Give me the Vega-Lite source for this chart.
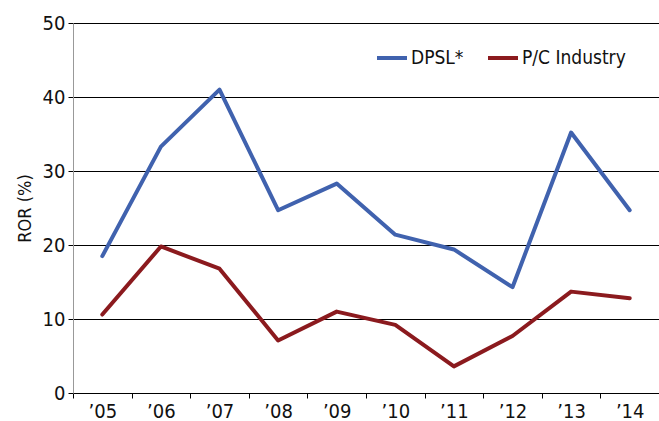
{
  "$schema": "https://vega.github.io/schema/vega-lite/v6.json",
  "autosize": {"type": "none"},
  "padding": {"left": 73, "top": 23, "right": 0, "bottom": 28},
  "width": 586,
  "height": 370,
  "background": "white",
  "config": {
    "font": "DejaVu Sans Condensed, Liberation Sans, sans-serif",
    "view": {"stroke": null}
  },
  "data": {
    "values": [
      {"year": "’05", "series": "DPSL*", "ror": 18.5},
      {"year": "’06", "series": "DPSL*", "ror": 33.3},
      {"year": "’07", "series": "DPSL*", "ror": 41.0},
      {"year": "’08", "series": "DPSL*", "ror": 24.7},
      {"year": "’09", "series": "DPSL*", "ror": 28.3},
      {"year": "’10", "series": "DPSL*", "ror": 21.4},
      {"year": "’11", "series": "DPSL*", "ror": 19.4},
      {"year": "’12", "series": "DPSL*", "ror": 14.3},
      {"year": "’13", "series": "DPSL*", "ror": 35.2},
      {"year": "’14", "series": "DPSL*", "ror": 24.7},
      {"year": "’05", "series": "P/C Industry", "ror": 10.6},
      {"year": "’06", "series": "P/C Industry", "ror": 19.8},
      {"year": "’07", "series": "P/C Industry", "ror": 16.8},
      {"year": "’08", "series": "P/C Industry", "ror": 7.1},
      {"year": "’09", "series": "P/C Industry", "ror": 11.0},
      {"year": "’10", "series": "P/C Industry", "ror": 9.2},
      {"year": "’11", "series": "P/C Industry", "ror": 3.6},
      {"year": "’12", "series": "P/C Industry", "ror": 7.7},
      {"year": "’13", "series": "P/C Industry", "ror": 13.7},
      {"year": "’14", "series": "P/C Industry", "ror": 12.8}
    ]
  },
  "mark": {"type": "line", "strokeWidth": 4, "strokeCap": "round", "strokeJoin": "round"},
  "encoding": {
    "x": {
      "field": "year",
      "type": "ordinal",
      "sort": null,
      "bandPosition": 0.5,
      "scale": {"type": "band", "paddingInner": 0, "paddingOuter": 0},
      "axis": {
        "title": null,
        "labelAngle": 0,
        "tickBand": "extent",
        "labelFontSize": 20,
        "labelColor": "#111",
        "labelPadding": 3,
        "domainColor": "#000",
        "tickColor": "#000",
        "tickSize": 5,
        "grid": false
      }
    },
    "y": {
      "field": "ror",
      "type": "quantitative",
      "scale": {"domain": [0, 50], "nice": false},
      "axis": {
        "title": "ROR (%)",
        "titleFontSize": 18,
        "titleFontWeight": "normal",
        "titleColor": "#111",
        "titlePadding": 8,
        "values": [0, 10, 20, 30, 40, 50],
        "labelFontSize": 20,
        "labelColor": "#111",
        "labelPadding": 3,
        "domainColor": "#999",
        "tickColor": "#000",
        "tickSize": 5,
        "grid": true,
        "gridColor": "#000",
        "gridOpacity": 1,
        "gridWidth": 1
      }
    },
    "color": {
      "field": "series",
      "type": "nominal",
      "scale": {"domain": ["DPSL*", "P/C Industry"], "range": ["#4062AE", "#8B1A1E"]},
      "legend": {
        "title": null,
        "orient": "none",
        "legendX": 302,
        "legendY": 18,
        "direction": "horizontal",
        "symbolType": "stroke",
        "symbolStrokeWidth": 4,
        "symbolSize": 900,
        "labelFontSize": 19,
        "labelColor": "#111",
        "columnPadding": 16,
        "labelOffset": 2
      }
    }
  }
}
